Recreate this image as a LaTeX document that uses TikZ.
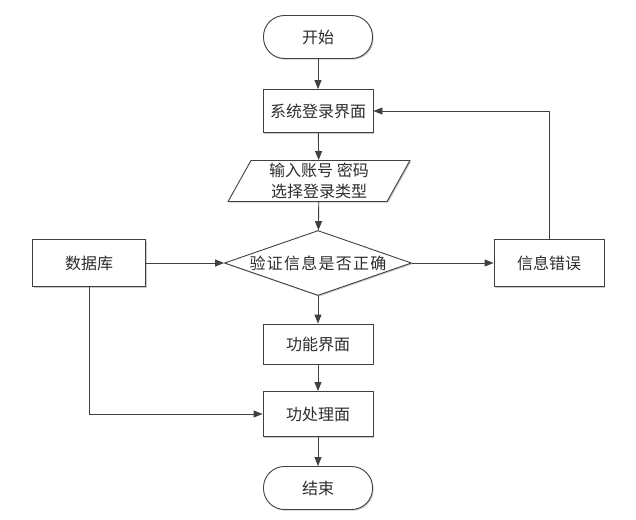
\documentclass[tikz,border=0pt]{standalone}
\usepackage{fontspec}
\setmainfont{Noto Sans CJK SC}
\usetikzlibrary{arrows.meta,shapes.geometric,shadows}

\definecolor{lineGray}{RGB}{64,64,64}
\definecolor{textGray}{RGB}{45,45,45}

\tikzset{
  base/.style={draw=lineGray, line width=0.9pt, fill=white, text=textGray, inner sep=0pt,
    font=\fontsize{16}{21}\selectfont, drop shadow={shadow xshift=1.2pt, shadow yshift=-1.2pt, fill=black!35, opacity=0.6}},
  procbox/.style={base, rectangle, minimum width=110pt, minimum height=43pt},
  termbox/.style={base, rectangle, rounded corners=21pt, minimum width=109pt, minimum height=43pt},
  iobox/.style={base, trapezium, trapezium left angle=65, trapezium right angle=115,
    trapezium stretches=true, minimum width=182pt, minimum height=41pt, align=center},
  decbox/.style={base, diamond, aspect=2.9, minimum width=187pt, minimum height=65pt},
  flow/.style={draw=lineGray, line width=0.9pt, -{Triangle[length=9pt, width=7pt]}}
}

\begin{document}
\begin{tikzpicture}[x=1pt,y=1pt,yscale=-1,xscale=1]
\useasboundingbox (0,0) rectangle (636,519);

%Main column
\node [termbox] (start) at (318,37) {开始};
\node [procbox] (login) at (318,111) {系统登录界面};
\node [iobox] (input) at (319,181) {输入账号 密码\\选择登录类型};
\node [decbox] (check) at (318,263) {\addfontfeature{LetterSpace=8}验证信息是否正确};
\node [procbox, minimum height=40pt] (func) at (318,344) {功能界面};
\node [procbox, minimum height=45pt] (proc) at (318,414) {功处理面};
\node [termbox] (stop) at (318,488) {结束};

%Side boxes
\node [procbox, minimum width=113pt, minimum height=47pt] (db) at (89,263) {数据库};
\node [procbox, minimum height=47pt] (err) at (549,263) {信息错误};

%Arrows
\draw [flow] (start) -- (login);
\draw [flow] (login) -- (input);
\draw [flow] (input) -- (check);
\draw [flow] (check) -- (func);
\draw [flow] (func) -- (proc);
\draw [flow] (proc) -- (stop);
\draw [flow] (db) -- (check);
\draw [flow] (check) -- (err);

%Back to login
\draw [flow] (err.north) |- (login.east);

%Database to processing
\draw [flow] (db.south) |- (proc.west);

\end{tikzpicture}
\end{document}
